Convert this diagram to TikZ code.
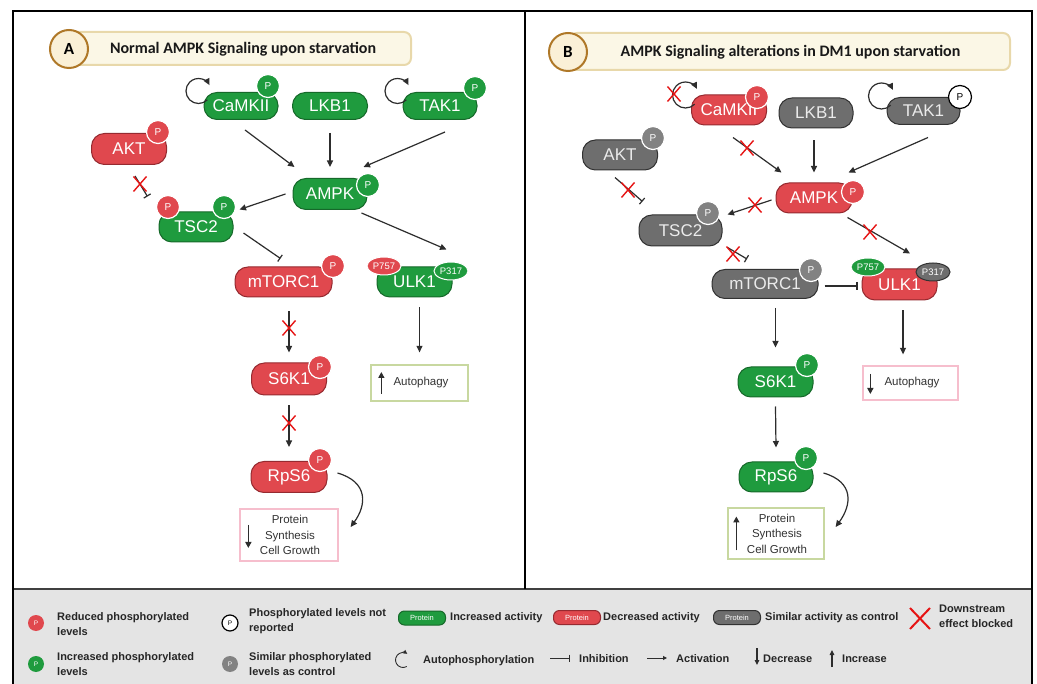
\documentclass[tikz,border=0pt]{standalone}
\usepackage{fontspec}
\setmainfont{Liberation Sans}
\newfontfamily\titlefont{Carlito}
\usetikzlibrary{arrows.meta,calc,shapes.geometric}
\definecolor{gfill}{RGB}{31,155,62}
\definecolor{gdraw}{RGB}{22,105,42}
\definecolor{rfill}{RGB}{224,72,78}
\definecolor{rdraw}{RGB}{150,42,48}
\definecolor{kfill}{RGB}{110,110,110}
\definecolor{kdraw}{RGB}{50,50,50}
\definecolor{kp}{RGB}{130,130,130}
\definecolor{boxgreen}{RGB}{200,216,160}
\definecolor{boxpink}{RGB}{246,190,205}
\definecolor{bannerfill}{RGB}{251,247,230}
\definecolor{bannerdraw}{RGB}{232,216,170}
\definecolor{badgefill}{RGB}{250,240,215}
\definecolor{badgedraw}{RGB}{175,120,40}
\definecolor{legbg}{RGB}{228,228,228}
\definecolor{xred}{RGB}{230,20,20}
\definecolor{arrcol}{RGB}{45,45,45}
\begin{document}
\begin{tikzpicture}[x=1pt,y=-1pt,
  prot/.style={rectangle, rounded corners=13pt, minimum height=30pt, minimum width=75pt, inner sep=0pt, text=white, font=\fontsize{17}{20}\selectfont, line width=1pt},
  protG/.style={prot, fill=gfill, draw=gdraw},
  protR/.style={prot, fill=rfill, draw=rdraw},
  protK/.style={prot, fill=kfill, draw=kdraw, text=white!92!black},
  pbase/.style={circle, minimum size=23pt, inner sep=0pt, line width=1.2pt, draw=white, text=white, font=\fontsize{10}{10}\selectfont},
  pgreen/.style={pbase, fill=gfill},
  pred/.style={pbase, fill=rfill},
  pgray/.style={pbase, fill=kp},
  pwhite/.style={pbase, fill=white, draw=black, text=black},
  obase/.style={ellipse, minimum width=34pt, minimum height=18pt, inner sep=0pt, line width=1pt, draw=white, text=white, font=\fontsize{9.5}{10}\selectfont},
  arr/.style={draw=arrcol, line width=1.2pt},
  act/.style={arr, -{Triangle[length=6.5pt,width=6pt]}},
  inh/.style={arr, -{Bar[width=8pt,line width=1.2pt]}},
  barr/.style={draw=arrcol, line width=1.6pt, -{Triangle[length=6pt,width=6pt]}},
  boxbase/.style={rectangle, line width=1.3pt, fill=white, inner sep=0pt, text=black!80, font=\fontsize{11.5}{15.5}\selectfont, align=center},
  boxG/.style={boxbase, draw=boxgreen},
  boxP/.style={boxbase, draw=boxpink},
  banner/.style={rectangle, rounded corners=7pt, fill=bannerfill, draw=bannerdraw, line width=2pt, inner sep=0pt},
  badge/.style={circle, minimum size=38pt, inner sep=0pt, fill=badgefill, draw=badgedraw, line width=2pt, font=\titlefont\bfseries\fontsize{17}{18}\selectfont},
  ttl/.style={font=\titlefont\bfseries\fontsize{16}{18}\selectfont, inner sep=0pt, text=black!90},
  leg/.style={anchor=west, inner sep=0pt, align=left, font=\bfseries\fontsize{11}{15}\selectfont, text=black!85},
  lp/.style={circle, minimum size=16pt, inner sep=0pt, text=white, font=\fontsize{6.5}{7}\selectfont},
  lpill/.style={rectangle, rounded corners=6pt, minimum width=47pt, minimum height=14pt, inner sep=0pt, text=white, font=\fontsize{7.5}{8}\selectfont, line width=1pt},
  blockx/.pic={\draw[xred, line width=1.4pt] (-6.5,-7.5) -- (6.5,7.5) (-6.5,7.5) -- (6.5,-7.5);}
]
\useasboundingbox (0,0) rectangle (1037,684);
\fill[white] (0,0) rectangle (1037,684);
\fill[legbg] (13,589) rectangle (1032,700);
\draw[black!75, line width=2pt] (13,589) -- (1032,589);
\draw[black, line width=1.5pt] (525,11) -- (525,589);
\draw[black, line width=1.8pt] (13,11) rectangle (1032,700);

% ---------------- Panel A ----------------
\node[banner, minimum width=341pt, minimum height=33pt] (banA) at (240.5,48.5) {};
\node[badge] (badA) at (69,49) {A};
\node[ttl] (ttlA) at (243,49) {Normal AMPK Signaling upon starvation};

\node[protG, minimum height=27pt, minimum width=74pt] (camkA) at (241,106) {CaMKII};
\node[protG, minimum height=27pt] (lkbA) at (330,106) {LKB1};
\node[protG, minimum height=27pt, minimum width=74pt] (takA) at (440,106) {TAK1};
\node[protR, minimum height=31pt] (aktA) at (129,149) {AKT};
\node[protG, minimum height=31pt, minimum width=74pt] (ampkA) at (330,194) {AMPK};
\node[protG, minimum width=74pt] (tscA) at (196,227) {TSC2};
\node[protR, minimum width=97pt] (mtorA) at (283.5,282) {mTORC1};
\node[protG] (ulkA) at (414.5,282) {ULK1};
\node[protR, minimum height=32pt] (s6kA) at (289,379) {S6K1};
\node[protR, minimum height=31pt, minimum width=76pt] (rpsA) at (289,477) {RpS6};
\node[boxG, minimum width=97pt, minimum height=36pt] (autoA) at (419.5,383) {\hspace*{3pt}Autophagy};
\node[boxP, minimum width=98pt, minimum height=52pt] (protA) at (289,535) {\hspace*{2pt}Protein\\\hspace*{2pt}Synthesis\\\hspace*{2pt}Cell Growth};

\node[pgreen] (pcamkA) at (268,86) {P};
\node[pgreen] (ptakA) at (475,88) {P};
\node[pred] (paktA) at (158,132) {P};
\node[pgreen] (pampkA) at (368,185) {P};
\node[pred] (ptscA1) at (168,207) {P};
\node[pgreen] (ptscA2) at (224,207) {P};
\node[pred] (pmtorA) at (333,266) {P};
\node[obase, fill=rfill] (p757A) at (384,266) {P757};
\node[obase, fill=gfill] (p317A) at (451,271) {P317};
\node[pred] (ps6kA) at (320,367) {P};
\node[pred] (prpsA) at (320,460) {P};

\draw[act] ($(camkA.west)+(-5,-15)$) ++(45:12.5) arc[start angle=45, end angle=332, radius=12.5];
\draw[act] ($(takA.west)+(-5,-15)$) ++(45:12.5) arc[start angle=45, end angle=332, radius=12.5];
\draw[act] ($(camkA.south)+(4,10)$) -- ($(ampkA.north west)+(2,-11)$);
\draw[act] ($(lkbA.south)+(0,13)$) -- ($(ampkA.north)+(0,-11)$);
\draw[act] ($(takA.south)+(5,12)$) -- ($(ampkA.north east)+(-4,-11)$);
\draw[inh] ($(aktA.south)+(6,11)$) -- ($(tscA.north west)+(-11,-15)$);
\pic at (140,184) {blockx};
\draw[act] ($(ampkA.west)+(-7,0)$) -- ($(tscA.north east)+(6,-2)$);
\draw[inh] ($(tscA.east)+(10,6)$) -- ($(mtorA.north)+(-3,-8)$);
\draw[act] ($(ampkA.south east)+(-6,3)$) -- ($(ulkA.north east)+(-6,-17)$);
\draw[act] ($(mtorA.south -| s6kA.north)+(0,14)$) -- ($(s6kA.north)+(0,-10)$);
\pic at (289,328) {blockx};
\draw[act] ($(ulkA.south -| autoA.north)+(0,10)$) -- ($(autoA.north)+(0,-12)$);
\draw[act] ($(s6kA.south)+(0,10)$) -- ($(rpsA.north)+(0,-14)$);
\pic at (289,423) {blockx};
\draw[act] ($(rpsA.east)+(10,-4)$) .. controls +(31,9) and +(16,-22) .. ($(protA.east)+(12,-8)$);
\draw[barr] ($(autoA.west)+(11,11)$) -- ($(autoA.west)+(11,-11)$);
\draw[barr] ($(protA.west)+(9,-10)$) -- ($(protA.west)+(9,13)$);

% ---------------- Panel B ----------------
\node[banner, minimum width=440pt, minimum height=37pt] (banB) at (790,51.5) {};
\node[badge] (badB) at (568,52) {B};
\node[ttl] (ttlB) at (790.5,52) {AMPK Signaling alterations in DM1 upon starvation};

\node[protR] (camkB) at (729,110) {CaMKII};
\node[protK, minimum width=74pt] (lkbB) at (816,113) {LKB1};
\node[protK, minimum height=27pt, minimum width=73pt] (takB) at (923.5,111) {TAK1};
\node[protK] (aktB) at (620,155) {AKT};
\node[protR, minimum width=76pt] (ampkB) at (814,198) {AMPK};
\node[protK, minimum width=83pt, minimum height=31pt] (tscB) at (680.5,230.5) {TSC2};
\node[protK, minimum width=106pt, minimum height=29pt] (mtorB) at (765,284) {mTORC1};
\node[protR, minimum height=31pt] (ulkB) at (899.5,284.5) {ULK1};
\node[protG] (s6kB) at (775.5,382) {S6K1};
\node[protG, minimum width=74pt] (rpsB) at (776,477) {RpS6};
\node[boxP, minimum width=95pt, minimum height=34pt] (autoB) at (910.5,383) {\hspace*{3pt}Autophagy};
\node[boxG, minimum width=96pt, minimum height=51pt] (protB) at (776,533.5) {\hspace*{2pt}Protein\\\hspace*{2pt}Synthesis\\\hspace*{2pt}Cell Growth};

\node[pred] (pcamkB) at (757,97) {P};
\node[pwhite] (ptakB) at (960,97) {P};
\node[pgray] (paktB) at (653,138) {P};
\node[pred] (pampkB) at (853,192) {P};
\node[pgray] (ptscB) at (708,213) {P};
\node[pgray] (pmtorB) at (811,270) {P};
\node[obase, fill=gfill] (p757B) at (868,267) {P757};
\node[obase, fill=kfill, draw=kdraw] (p317B) at (933,272) {P317};
\node[pgreen] (ps6kB) at (807,365) {P};
\node[pgreen] (prpsB) at (806,458) {P};

\draw[act] ($(camkB.west)+(-5.5,-15)$) ++(45:13) arc[start angle=45, end angle=332, radius=13];
\pic at ($(camkB.west)+(-17,-16)$) {blockx};
\draw[act] ($(takB.west)+(-5,-15)$) ++(45:13) arc[start angle=45, end angle=332, radius=13];
\draw[act] ($(camkB.south)+(4,12)$) -- ($(ampkB.north west)+(6,-10)$);
\pic at (747,148) {blockx};
\draw[act] ($(lkbB.south -| ampkB.north)+(0,12)$) -- ($(ampkB.north)+(0,-10)$);
\draw[act] ($(takB.south)+(4.5,12.5)$) -- ($(ampkB.north east)+(-4,-10)$);
\draw[inh] ($(aktB.south)+(-5,7)$) -- ($(tscB.north west)+(4,-13)$);
\pic at (628,190) {blockx};
\draw[act] ($(ampkB.west)+(-4,2)$) -- ($(tscB.north east)+(5,0)$);
\pic at (755,205) {blockx};
\draw[act] ($(ampkB.south east)+(-5,4)$) -- ($(ulkB.north)+(10.5,-15)$);
\pic at (870,232) {blockx};
\draw[inh] ($(tscB.south east)+(5,1)$) -- ($(mtorB.north)+(-18,-10)$);
\pic at (733,254) {blockx};
\draw[inh] ($(mtorB.east)+(6,2)$) -- ($(ulkB.west |- mtorB.east)+(-4,2)$);
\draw[act] ($(mtorB.south -| s6kB.north)+(0,9)$) -- ($(s6kB.north)+(0,-19)$);
\draw[act] ($(ulkB.south)+(3.5,10)$) -- ($(autoB.north -| ulkB.south)+(3.5,-11)$);
\draw[act] ($(s6kB.south)+(0,9)$) -- ($(rpsB.north)+(0,-14)$);
\draw[act] ($(rpsB.east)+(10,-4)$) .. controls +(31,9) and +(16,-22) .. ($(protB.east)+(11,-6.5)$);
\draw[barr] ($(autoB.west)+(8,-9)$) -- ($(autoB.west)+(8,11)$);
\draw[barr] ($(protB.west)+(9,17)$) -- ($(protB.west)+(9,-17)$);

% ---------------- Legend ----------------
\node[lp, fill=rfill] (lpr) at (36,623) {P};
\node[leg] (lt1) at (57,624.5) {Reduced phosphorylated\\levels};
\node[lp, fill=gfill] (lpg) at (36,664) {P};
\node[leg] (lt2) at (57,664) {Increased phosphorylated\\levels};
\node[lp, fill=white, draw=black, line width=1.2pt, text=black] (lpw) at (230,623) {P};
\node[leg] (lt3) at (249,621.5) {Phosphorylated levels not\\reported};
\node[lp, fill=kp] (lpk) at (230,664) {P};
\node[leg] (lt4) at (249,664) {Similar phosphorylated\\levels as control};
\node[lpill, fill=gfill, draw=gdraw] (lpillg) at (422,618) {Protein};
\node[leg] (lt5) at (450,618) {Increased activity};
\node[lpill, fill=rfill, draw=rdraw] (lpillr) at (577,617.5) {Protein};
\node[leg] (lt6) at (603,618) {Decreased activity};
\node[lpill, fill=kfill, draw=kdraw] (lpillk) at (737,617.5) {Protein};
\node[leg] (lt7) at (765,618) {Similar activity as control};
\draw[xred, line width=2pt] (910,608) -- (930,629) (910,629) -- (930,608);
\node[leg] (lt8) at (939,616.5) {Downstream\\effect blocked};
\coordinate (lauto) at (403,660);
\draw[arrcol, line width=0.9pt, -{Triangle[length=4pt,width=4pt]}] (lauto) ++(60:7.5) arc[start angle=60, end angle=305, radius=7.5];
\node[leg] (lt9) at (423,661) {Autophosphorylation};
\coordinate (li1) at (550,658);
\coordinate (li2) at (570,658);
\draw[arrcol, line width=1pt, -{Bar[width=7pt,line width=1pt]}] (li1) -- (li2);
\node[leg] (lt10) at (579,659) {Inhibition};
\coordinate (la1) at (647,658);
\coordinate (la2) at (667,658);
\draw[arrcol, line width=1pt, -{Triangle[length=4pt,width=4pt]}] (la1) -- (la2);
\node[leg] (lt11) at (676,659) {Activation};
\coordinate (ld1) at (757,648);
\coordinate (ld2) at (757,665);
\draw[arrcol, line width=1.1pt, -{Triangle[length=5pt,width=4.5pt]}] (ld1) -- (ld2);
\node[leg] (lt12) at (763,659) {Decrease};
\coordinate (lu1) at (832,667);
\coordinate (lu2) at (832,650);
\draw[arrcol, line width=1.1pt, -{Triangle[length=5pt,width=4.5pt]}] (lu1) -- (lu2);
\node[leg] (lt13) at (842,659) {Increase};
\end{tikzpicture}
\end{document}
